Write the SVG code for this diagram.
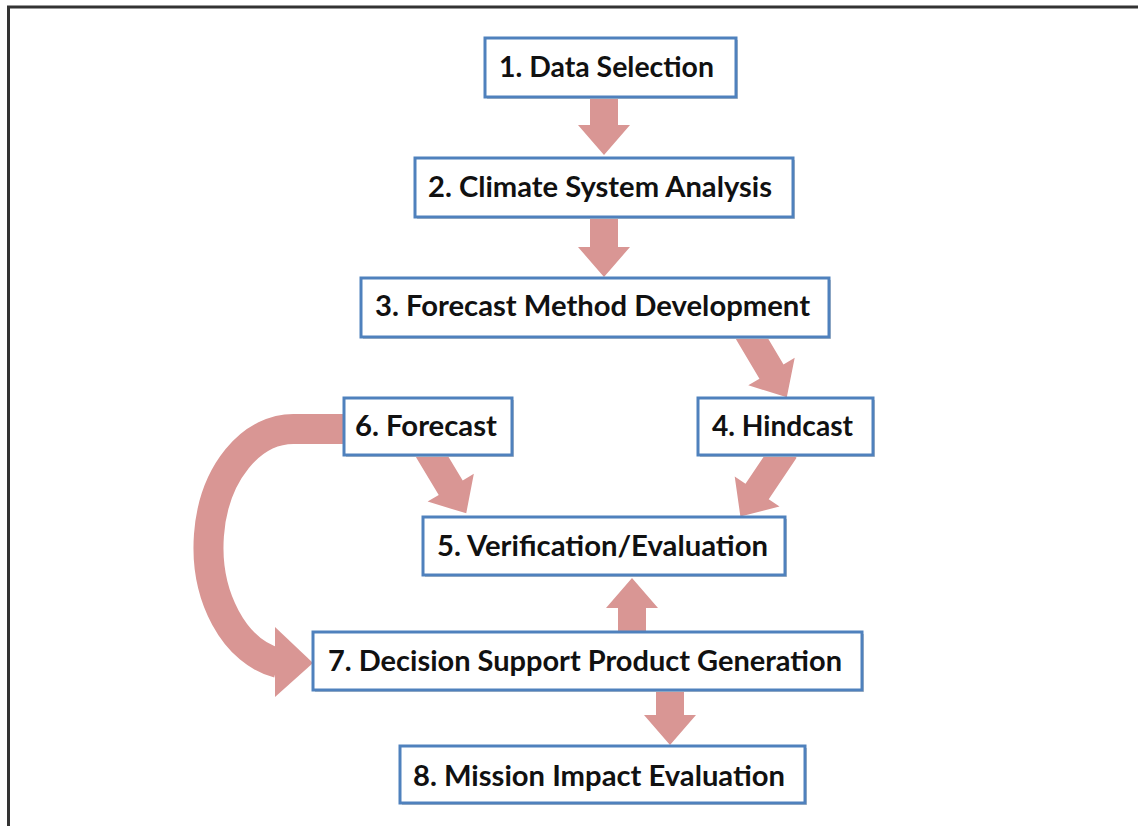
<svg xmlns="http://www.w3.org/2000/svg" width="1138" height="826" viewBox="0 0 1138 826">
  <style>
    .frame { stroke: #333333; stroke-width: 3; fill: none; }
    .arrow { fill: #d99694; }
    .arc { fill: none; stroke: #d99694; stroke-width: 30; }
    .box { fill: #ffffff; stroke: #4f81bd; stroke-width: 3; }
    .shadow { fill: #c8c8c8; }
    .label { font-family: "Lato", "Liberation Sans", sans-serif; font-weight: bold; font-size: 28px; fill: #111111; text-anchor: start; }
  </style>

  <rect x="0" y="0" width="1138" height="826" fill="#ffffff"/>

  <!-- outer frame (top and left edges) -->
  <path class="frame" d="M8.5 826 V7 H1138"/>

  <!-- connectors: block arrows drawn along +x, then placed -->
  <g id="connectors">
    <!-- 1 -> 2 -->
    <path class="arrow" transform="translate(604,95) rotate(90)" d="M0,-14 H30 V-26 L60,0 L30,26 V14 H0 Z"/>
    <!-- 2 -> 3 -->
    <path class="arrow" transform="translate(604,215) rotate(90)" d="M0,-14 H32 V-26 L62,0 L32,26 V14 H0 Z"/>
    <!-- 3 -> 4 -->
    <path class="arrow" transform="translate(748,332) rotate(59.3)" d="M0,-14 H46 V-27 L76,0 L46,27 V14 H0 Z"/>
    <!-- 6 -> 5 -->
    <path class="arrow" transform="translate(428,450) rotate(58.9)" d="M0,-14 H44 V-27 L74,0 L44,27 V14 H0 Z"/>
    <!-- 4 -> 5 -->
    <path class="arrow" transform="translate(785,450) rotate(123.9)" d="M0,-14 H50 V-27 L80,0 L50,27 V14 H0 Z"/>
    <!-- 7 -> 5 -->
    <path class="arrow" transform="translate(632,634) rotate(-90)" d="M0,-14 H26 V-26 L56,0 L26,26 V14 H0 Z"/>
    <!-- 7 -> 8 -->
    <path class="arrow" transform="translate(670,688) rotate(90)" d="M0,-14 H27 V-26 L57,0 L27,26 V14 H0 Z"/>
    <!-- 6 -> 7 curved loop -->
    <path class="arc" d="M350 429 H295 A85 118 0 0 0 278 663"/>
    <path class="arrow" d="M275,627 L313,663 L275,697 Z"/>
  </g>

  <g id="node1">
    <rect class="shadow" x="487" y="40" width="251" height="59"/>
    <rect class="box" x="485" y="38" width="251" height="59"/>
    <text class="label" x="499" y="77" textLength="215" lengthAdjust="spacingAndGlyphs">1. Data Selection</text>
  </g>
  <g id="node2">
    <rect class="shadow" x="417" y="160" width="378" height="59"/>
    <rect class="box" x="415" y="158" width="378" height="59"/>
    <text class="label" x="428" y="197" textLength="344" lengthAdjust="spacingAndGlyphs">2. Climate System Analysis</text>
  </g>
  <g id="node3">
    <rect class="shadow" x="363" y="280" width="468" height="59"/>
    <rect class="box" x="361" y="278" width="468" height="59"/>
    <text class="label" x="375" y="316" textLength="435" lengthAdjust="spacingAndGlyphs">3. Forecast Method Development</text>
  </g>
  <g id="node6">
    <rect class="shadow" x="346" y="400" width="168" height="57"/>
    <rect class="box" x="344" y="398" width="168" height="57"/>
    <text class="label" x="355" y="436" textLength="142" lengthAdjust="spacingAndGlyphs">6. Forecast</text>
  </g>
  <g id="node4">
    <rect class="shadow" x="700" y="400" width="175" height="57"/>
    <rect class="box" x="698" y="398" width="175" height="57"/>
    <text class="label" x="712" y="436" textLength="141" lengthAdjust="spacingAndGlyphs">4. Hindcast</text>
  </g>
  <g id="node5">
    <rect class="shadow" x="425" y="519" width="362" height="58"/>
    <rect class="box" x="423" y="517" width="362" height="58"/>
    <text class="label" x="437" y="556" textLength="331" lengthAdjust="spacingAndGlyphs">5. Verification/Evaluation</text>
  </g>
  <g id="node7">
    <rect class="shadow" x="315" y="634" width="549" height="58"/>
    <rect class="box" x="313" y="632" width="549" height="58"/>
    <text class="label" x="328" y="671" textLength="514" lengthAdjust="spacingAndGlyphs">7. Decision Support Product Generation</text>
  </g>
  <g id="node8">
    <rect class="shadow" x="402" y="748" width="405" height="57"/>
    <rect class="box" x="400" y="746" width="405" height="57"/>
    <text class="label" x="413" y="786" textLength="372" lengthAdjust="spacingAndGlyphs">8. Mission Impact Evaluation</text>
  </g>
</svg>
